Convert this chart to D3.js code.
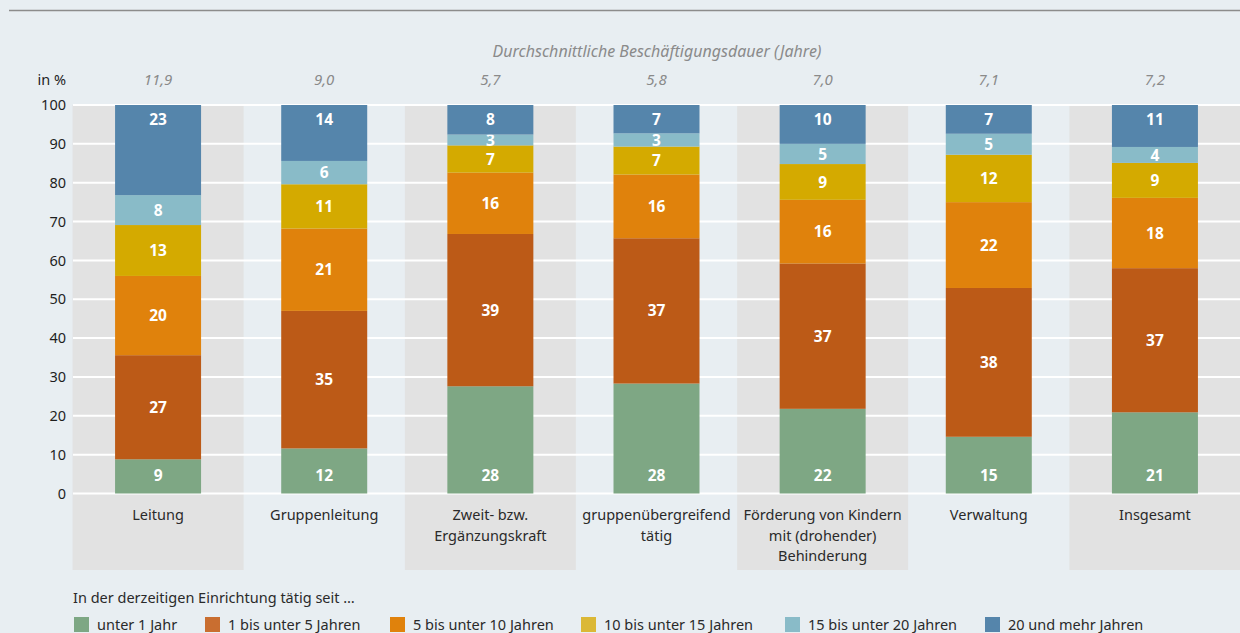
<!DOCTYPE html>
<html>
<head>
<meta charset="utf-8">
<script src="https://cdn.jsdelivr.net/npm/d3@7"></script>
<style>
  body { margin: 0; background: #e8eef2; }
  svg { display: block; font-family: "Noto Sans", sans-serif; }
</style>
</head>
<body>
<div id="chart"></div>
<script>
// categories (line breaks as in the original)
const categories = [
  ["Leitung"],
  ["Gruppenleitung"],
  ["Zweit- bzw.", "Ergänzungskraft"],
  ["gruppenübergreifend", "tätig"],
  ["Förderung von Kindern", "mit (drohender)", "Behinderung"],
  ["Verwaltung"],
  ["Insgesamt"]
];
const avgYears = [11.9, 9.0, 5.7, 5.8, 7.0, 7.1, 7.2];

const seriesNames = ["unter 1 Jahr", "1 bis unter 5 Jahren", "5 bis unter 10 Jahren",
  "10 bis unter 15 Jahren", "15 bis unter 20 Jahren", "20 und mehr Jahren"];

// shares in %, one array per series (per category)
const unter1   = [8.8, 11.6, 27.6, 28.3, 21.8, 14.6, 20.9];
const bis5     = [26.8, 35.4, 39.2, 37.4, 37.4, 38.3, 37.1];
const bis10    = [20.4, 21.2, 15.8, 16.4, 16.4, 22.1, 18.1];
const bis15    = [13.1, 11.4, 7.0, 7.2, 9.2, 12.2, 9.0];
const bis20    = [7.7, 6.0, 2.8, 3.4, 5.2, 5.4, 4.1];
const ab20     = [23.2, 14.4, 7.6, 7.3, 10.0, 7.4, 10.8];
const seriesValues = [unter1, bis5, bis10, bis15, bis20, ab20];

const yTicks = [0, 10, 20, 30, 40, 50, 60, 70, 80, 90, 100];

const barColors = ["#7ea784", "#bc5a17", "#e0820c", "#d4aa00", "#89bbc8", "#5585ab"];
const legendColors = ["#7da784", "#c96e30", "#e0820c", "#dbb836", "#89bbc8", "#5585ab"];

const width = 1240, height = 633;
const svg = d3.select("#chart").append("svg")
  .attr("width", width).attr("height", height);

const x = d3.scaleBand().domain(d3.range(categories.length)).range([75, 1238]).padding(0);
const y = d3.scaleLinear().domain([0, 100]).range([493.5, 105]);
const barW = 86, panelW = 171;
const nSeries = seriesNames.length;

// build rows for the stack
const rows = categories.map((c, i) => {
  const r = { i: i };
  seriesValues.forEach((s, k) => r[k] = s[i]);
  return r;
});
const stacked = d3.stack().keys(d3.range(nSeries))(rows);

// top rule
svg.append("line")
  .attr("x1", 9).attr("x2", width).attr("y1", 10.5).attr("y2", 10.5)
  .attr("stroke", "#8c8c8c").attr("stroke-width", 1.5);

// alternating grey panels
svg.append("g").selectAll("rect")
  .data(d3.range(categories.length).filter(i => i % 2 === 0))
  .enter().append("rect")
  .attr("x", i => x(i) + x.bandwidth() / 2 - panelW / 2)
  .attr("y", y(100))
  .attr("width", panelW)
  .attr("height", 570 - y(100))
  .attr("fill", "#e2e2e2");

// gridlines
svg.append("g").selectAll("line")
  .data(yTicks)
  .enter().append("line")
  .attr("x1", 73).attr("x2", width)
  .attr("y1", d => y(d)).attr("y2", d => y(d))
  .attr("stroke", "#fff").attr("stroke-width", 2);

// y axis labels
const yAxis = svg.append("g")
  .attr("transform", "translate(66,0)")
  .call(d3.axisLeft(y).tickValues(yTicks).tickSize(0).tickPadding(0));
yAxis.select(".domain").remove();
yAxis.selectAll("text")
  .attr("font-family", "Noto Sans").attr("font-size", 14.5).attr("fill", "#1e1e1e");

svg.append("text")
  .attr("x", 66).attr("y", 85).attr("text-anchor", "end")
  .attr("font-size", 14.5).attr("fill", "#1e1e1e").text("in %");

// average duration header
svg.append("text")
  .attr("x", 657).attr("y", 57).attr("text-anchor", "middle")
  .attr("font-size", 16).attr("font-style", "italic").attr("fill", "#8a8a8a")
  .text("Durchschnittliche Beschäftigungsdauer (Jahre)");

const de = d3.formatLocale({ decimal: ",", thousands: ".", grouping: [3], currency: ["", " €"] });
const fmt1 = de.format(".1f");
svg.append("g").selectAll("text")
  .data(avgYears)
  .enter().append("text")
  .attr("x", (d, i) => x(i) + x.bandwidth() / 2)
  .attr("y", 85)
  .attr("text-anchor", "middle")
  .attr("font-size", 15).attr("font-style", "italic").attr("fill", "#8a8a8a")
  .text(d => fmt1(d));

// bars
const layers = svg.append("g").selectAll("g")
  .data(stacked)
  .enter().append("g")
  .attr("fill", (d, k) => barColors[k]);

layers.selectAll("rect")
  .data(d => d)
  .enter().append("rect")
  .attr("x", (d, i) => x(i) + x.bandwidth() / 2 - barW / 2)
  .attr("y", d => y(d[1]))
  .attr("width", barW)
  .attr("height", d => y(d[0]) - y(d[1]));

// value labels: bottom series at the base, top series at the top, others centred
function labelY(d, k) {
  if (k === 0) return y(d[0]) - 18;
  if (k === nSeries - 1) return y(d[1]) + 14;
  return (y(d[0]) + y(d[1])) / 2;
}
layers.each(function (layer, k) {
  d3.select(this).selectAll("text")
    .data(layer)
    .enter().append("text")
    .attr("x", (d, i) => x(i) + x.bandwidth() / 2)
    .attr("y", d => labelY(d, k))
    .attr("dy", "0.36em")
    .attr("text-anchor", "middle")
    .attr("font-size", 15.5).attr("font-weight", "bold").attr("fill", "#fff")
    .text(d => Math.round(d[1] - d[0]));
});

// category labels
const catG = svg.append("g").selectAll("text")
  .data(categories)
  .enter().append("text")
  .attr("x", (d, i) => x(i) + x.bandwidth() / 2)
  .attr("y", 520)
  .attr("text-anchor", "middle")
  .attr("font-size", 14.5).attr("fill", "#2a2a2a");
catG.selectAll("tspan")
  .data(d => d)
  .enter().append("tspan")
  .attr("x", function () { return this.parentNode.getAttribute("x"); })
  .attr("dy", (d, j) => j === 0 ? 0 : 20.5)
  .text(d => d);

// legend
svg.append("text")
  .attr("x", 73).attr("y", 603)
  .attr("font-size", 14.5).attr("fill", "#2a2a2a")
  .text("In der derzeitigen Einrichtung tätig seit …");

const legendX = [74, 205, 390, 581, 785, 985];
const lg = svg.append("g").selectAll("g")
  .data(seriesNames)
  .enter().append("g")
  .attr("transform", (d, k) => "translate(" + legendX[k] + ",617)");
lg.append("rect")
  .attr("width", 15).attr("height", 15)
  .attr("fill", (d, k) => legendColors[k]);
lg.append("text")
  .attr("x", 23).attr("y", 13)
  .attr("font-size", 14.5).attr("fill", "#2a2a2a")
  .text(d => d);
</script>
</body>
</html>
